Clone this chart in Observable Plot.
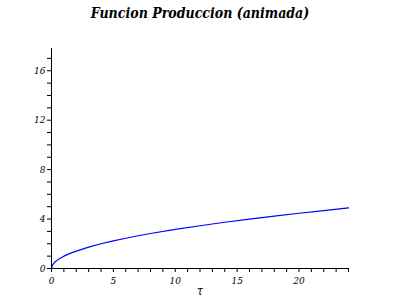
<!DOCTYPE html>
<html><head><meta charset="utf-8">
<script src="https://cdn.jsdelivr.net/npm/d3@7"></script>
<script src="https://cdn.jsdelivr.net/npm/@observablehq/plot@0.6"></script>
<style>
body{margin:0;background:#fff;width:400px;height:300px;overflow:hidden}
#title{height:30px;line-height:26px;text-align:center;font-family:"DejaVu Serif",serif;font-stretch:condensed;font-style:italic;font-weight:bold;font-size:14px;color:#000}
</style></head><body>
<div id="title">Funcion Produccion (animada)</div>
<div id="chart"></div>
<script>
const tau = [0, 0.1, 0.25, 0.5, 1, 1.5, 2, 3, 4, 5, 6, 7, 8, 10, 12, 14, 16, 18, 20, 22, 24];
const production = [0, 0.32, 0.5, 0.7, 1.0, 1.22, 1.41, 1.73, 2.0, 2.24, 2.45, 2.65, 2.83, 3.16, 3.46, 3.74, 4.0, 4.24, 4.47, 4.69, 4.9];
const xTicks = d3.range(0, 25);
const yTicks = d3.range(0, 18);
const data = tau.map((t, i) => ({t, p: production[i]}));
const serif = "'DejaVu Serif', serif";
const plot = Plot.plot({
  width: 400, height: 270,
  marginTop: 18, marginBottom: 32, marginLeft: 51, marginRight: 52,
  style: {fontFamily: serif, fontSize: "10px", fontStyle: "italic", fontStretch: "condensed", background: "#fff", color: "#000"},
  x: {domain: [0, 24]},
  y: {domain: [0, 17.8]},
  marks: [
    Plot.axisX({ticks: xTicks, tickSize: 4, tickPadding: 4, tickFormat: d => d % 5 === 0 ? d : "", label: null, fontSize: 10, fontFamily: serif}),
    Plot.axisY({ticks: yTicks, tickSize: 4, tickPadding: 2, tickFormat: d => d % 4 === 0 ? d : "", label: null, fontSize: 10, fontFamily: serif}),
    Plot.text(["τ"], {frameAnchor: "bottom", dy: 26, fontSize: 12, fontStyle: "italic", fontFamily: serif}),
    Plot.ruleY([0], {stroke: "#000"}),
    Plot.ruleX([0], {stroke: "#000"}),
    Plot.line(data, {x: "t", y: "p", stroke: "#0000ff", strokeWidth: 1.2})
  ]
});
document.getElementById("chart").appendChild(plot);
</script></body></html>
